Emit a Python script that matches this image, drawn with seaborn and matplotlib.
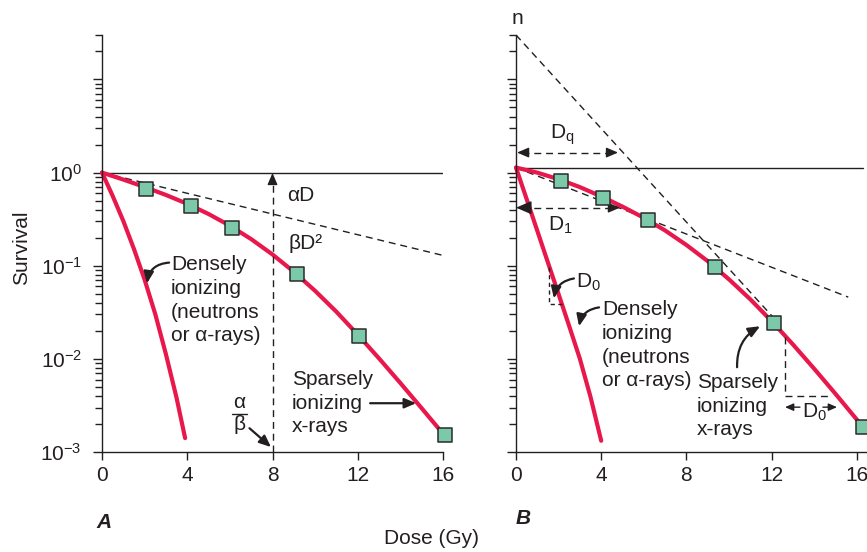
import numpy as np
import pandas as pd
import matplotlib
matplotlib.use("Agg")
import matplotlib.pyplot as plt
import seaborn as sns
from matplotlib.ticker import FixedLocator, FixedFormatter, LogLocator, NullFormatter

# ---------------- data ----------------
dose_ticks = [0, 4, 8, 12, 16]
surv_major = [1e-3, 1e-2, 1e-1, 1e0, 1e1]
surv_major_labels = ["$10^{-3}$", "$10^{-2}$", "$10^{-1}$", "$10^{0}$", ""]

# Panel A
a_sq_dose = [2.07, 4.18, 6.10, 9.15, 12.07, 16.1]
a_sq_surv = [0.674, 0.443, 0.251, 0.0807, 0.0175, 0.00152]
a_sparse_dose = [0, 1, 2, 3, 4, 5, 6, 7, 8, 9, 10, 11, 12, 13, 14, 15, 16, 16.1]
a_sparse_surv = [1.0, 0.841, 0.700, 0.575, 0.462, 0.359, 0.269, 0.193, 0.132, 0.0861,
                 0.0537, 0.0320, 0.0182, 0.0101, 0.00550, 0.00295, 0.00157, 0.00148]
a_dense_dose = [0, 0.5, 1, 1.5, 2, 2.5, 3, 3.5, 3.9]
a_dense_surv = [1.0, 0.562, 0.302, 0.151, 0.0708, 0.0302, 0.0112, 0.0038, 0.00141]
a_alphaD_dose = [0, 16]
a_alphaD_surv = [1.0, 0.129]
a_unit_dose = [0, 16]
a_unit_surv = [1.0, 1.0]

# Panel B
b_sq_dose = [2.11, 4.08, 6.2, 9.34, 12.11, 16.3]
b_sq_surv = [0.82, 0.54, 0.306, 0.096, 0.024, 0.00185]
b_sparse_dose = [0, 1, 2, 3, 4, 5, 6, 7, 8, 9, 10, 11, 12, 13, 14, 15, 16, 16.3]
b_sparse_surv = [1.132, 0.998, 0.849, 0.698, 0.555, 0.431, 0.327, 0.239, 0.167,
                 0.112, 0.0714, 0.0436, 0.0254, 0.0143, 0.00783, 0.00421, 0.00223, 0.00184]
b_dense_dose = [0, 0.5, 1, 1.5, 2, 2.5, 3, 3.5, 4]
b_dense_surv = [1.13, 0.519, 0.237, 0.108, 0.0495, 0.0224, 0.0100, 0.00389, 0.00132]
b_steep_dose = [0, 12.07]
b_steep_surv = [30, 0.028]
b_initial_dose = [0, 15.6]
b_initial_surv = [1.13, 0.046]
b_unit_dose = [0, 16.3]
b_unit_surv = [1.13, 1.13]

# ---------------- style ----------------
sns.set_style("ticks")
plt.rcParams["font.family"] = ["Liberation Sans", "DejaVu Sans"]
plt.rcParams["mathtext.fontset"] = "custom"
plt.rcParams["mathtext.rm"] = "Liberation Sans"
plt.rcParams["mathtext.it"] = "Liberation Sans:italic"
plt.rcParams["mathtext.bf"] = "Liberation Sans:bold"
plt.rcParams["mathtext.default"] = "regular"

RED = "#E8184C"
SQ = "#7CC9A9"
INK = "#231F20"
FS = 15
DASH = (0, (5, 3.5))

fig = plt.figure(figsize=(8.67, 5.52), dpi=100)
W, H = 867.0, 552.0
axA = fig.add_axes([102 / W, 100 / H, 341 / W, 417 / H])
axB = fig.add_axes([516 / W, 100 / H, 351 / W, 417 / H])


def setup(ax, xmax, ylabels):
    ax.set_yscale("log")
    ax.set_xlim(0, xmax)
    ax.set_ylim(1e-3, 30)
    ax.xaxis.set_major_locator(FixedLocator(dose_ticks))
    ax.set_xticklabels([str(t) for t in dose_ticks])
    ax.yaxis.set_major_locator(FixedLocator(surv_major))
    if ylabels:
        ax.yaxis.set_major_formatter(FixedFormatter(surv_major_labels))
    else:
        ax.yaxis.set_major_formatter(NullFormatter())
    ax.yaxis.set_minor_locator(LogLocator(base=10, subs=np.arange(2, 10)))
    ax.yaxis.set_minor_formatter(NullFormatter())
    for s in ["top", "right"]:
        ax.spines[s].set_visible(False)
    for s in ["left", "bottom"]:
        ax.spines[s].set_linewidth(1.0)
        ax.spines[s].set_color(INK)
    ax.tick_params(axis="x", which="major", length=6, width=1, direction="out",
                   labelsize=FS, pad=4, colors=INK)
    ax.tick_params(axis="y", which="major", length=6.5, width=1, direction="out",
                   labelsize=FS, pad=8, colors=INK)
    ax.tick_params(axis="y", which="minor", length=5, width=1, direction="out", colors=INK)
    ax.set_xlabel("")
    ax.set_ylabel("")
    ax.patch.set_alpha(0)


def head(ax, xy, off, scale=1.0):
    ax.annotate("", xy=xy, xytext=off, textcoords="offset points",
                arrowprops=dict(arrowstyle=f"-|>,head_length={0.7*scale},head_width={0.3*scale}",
                                mutation_scale=10, color=INK, lw=1, shrinkA=0, shrinkB=0))


def curved(ax, start, tip, rad):
    ax.annotate("", xy=tip, xytext=start,
                arrowprops=dict(arrowstyle="-|>,head_length=0.7,head_width=0.3",
                                mutation_scale=10, color=INK, lw=1.6, shrinkA=0, shrinkB=0,
                                connectionstyle=f"arc3,rad={rad}"))


def lines_text(ax, x, y, lines, step=17.0):
    for k, ln in enumerate(lines):
        ax.annotate(ln, xy=(x, y), xytext=(0, -step * k), textcoords="offset points",
                    ha="left", va="baseline", fontsize=FS, color=INK)


for ax in (axA, axB):
    ax.set_yscale("log")

# ---------------- Panel A ----------------
sns.lineplot(x=a_unit_dose, y=a_unit_surv, ax=axA, color=INK, lw=1.0,
             estimator=None, sort=False)
sns.lineplot(x=a_alphaD_dose, y=a_alphaD_surv, ax=axA, color=INK, lw=1.0,
             linestyle=DASH, estimator=None, sort=False)
sns.lineplot(x=a_dense_dose, y=a_dense_surv, ax=axA, color=RED, lw=3.0,
             estimator=None, sort=False, clip_on=False)
sns.lineplot(x=a_sparse_dose, y=a_sparse_surv, ax=axA, color=RED, lw=3.0,
             estimator=None, sort=False, clip_on=False)
sns.scatterplot(x=a_sq_dose, y=a_sq_surv, ax=axA, marker="s", s=95, color=SQ,
                edgecolor="#2b2b2b", linewidth=1.1, zorder=5, clip_on=False)
setup(axA, 16, True)

# vertical alpha/beta arrow
axA.plot([8, 8], [1e-3, 0.9], color=INK, lw=1.0, linestyle=DASH)
head(axA, (8, 0.99), (0, -8))
axA.text(8.69, 0.50, "αD", fontsize=FS, color=INK, ha="left", va="baseline")
axA.text(8.73, 0.153, "βD²", fontsize=FS, color=INK, ha="left", va="baseline")
# alpha / beta fraction
axA.text(6.46, 0.00296, "α", fontsize=FS, color=INK, ha="center", va="baseline")
axA.plot([6.10, 6.81], [0.00258, 0.00258], color=INK, lw=1.0)
axA.text(6.46, 0.00172, "β", fontsize=FS, color=INK, ha="center", va="baseline")
axA.annotate("", xy=(7.93, 0.00113), xytext=(6.92, 0.0018),
             arrowprops=dict(arrowstyle="-|>,head_length=0.7,head_width=0.3",
                             mutation_scale=10, color=INK, lw=1.6, shrinkA=0, shrinkB=0))
lines_text(axA, 3.24, 0.089, ["Densely", "ionizing", "(neutrons", "or α-rays)"])
curved(axA, (3.15, 0.108), (2.11, 0.0646), 0.4)
lines_text(axA, 8.92, 0.00521, ["Sparsely", "ionizing", "x-rays"])
axA.annotate("", xy=(14.74, 0.00334), xytext=(12.58, 0.00334),
             arrowprops=dict(arrowstyle="-|>,head_length=0.7,head_width=0.3",
                             mutation_scale=10, color=INK, lw=1.6, shrinkA=0, shrinkB=0))

# ---------------- Panel B ----------------
sns.lineplot(x=b_unit_dose, y=b_unit_surv, ax=axB, color=INK, lw=1.0,
             estimator=None, sort=False, clip_on=False)
sns.lineplot(x=b_steep_dose, y=b_steep_surv, ax=axB, color=INK, lw=1.0,
             linestyle=DASH, estimator=None, sort=False)
sns.lineplot(x=b_initial_dose, y=b_initial_surv, ax=axB, color=INK, lw=1.0,
             linestyle=DASH, estimator=None, sort=False)
sns.lineplot(x=b_dense_dose, y=b_dense_surv, ax=axB, color=RED, lw=3.0,
             estimator=None, sort=False, clip_on=False)
sns.lineplot(x=b_sparse_dose, y=b_sparse_surv, ax=axB, color=RED, lw=3.0,
             estimator=None, sort=False, clip_on=False)
sns.scatterplot(x=b_sq_dose, y=b_sq_surv, ax=axB, marker="s", s=95, color=SQ,
                edgecolor="#2b2b2b", linewidth=1.1, zorder=5, clip_on=False)
setup(axB, 351 / 21.3, False)

axB.text(0.09, 45, "n", fontsize=FS, color=INK, ha="center", va="center")
# Dq
axB.plot([0.3, 4.5], [1.64, 1.64], color=INK, lw=1.0, linestyle=DASH)
head(axB, (0.05, 1.64), (8, 0))
head(axB, (4.79, 1.64), (-8, 0))
axB.text(1.60, 2.31, "D$_q$", fontsize=FS, color=INK, ha="left", va="baseline")
# D1
axB.plot([0.3, 4.6], [0.42, 0.42], color=INK, lw=1.0, linestyle=DASH)
head(axB, (0.0, 0.42), (10.5, 0), scale=1.35)
head(axB, (4.88, 0.42), (-8, 0))
axB.text(1.50, 0.239, "D$_1$", fontsize=FS, color=INK, ha="left", va="baseline")
# D0 (dense)
axB.plot([1.55, 1.55, 2.16], [0.096, 0.039, 0.039], color=INK, lw=1.0, linestyle=(0, (3, 2.5)))
axB.text(2.82, 0.0585, "D$_0$", fontsize=FS, color=INK, ha="left", va="baseline")
curved(axB, (2.72, 0.073), (1.78, 0.0446), 0.35)
lines_text(axB, 4.04, 0.0293, ["Densely", "ionizing", "(neutrons", "or α-rays)"])
curved(axB, (3.9, 0.0357), (2.96, 0.0224), 0.35)
# sparse
lines_text(axB, 8.5, 0.00484, ["Sparsely", "ionizing", "x-rays"])
curved(axB, (10.38, 0.00813), (11.46, 0.0224), -0.3)
# D0 (sparse)
axB.plot([12.63, 12.63, 14.84], [0.017, 0.004, 0.004], color=INK, lw=1.0, linestyle=DASH)
axB.text(13.43, 0.00231, "D$_0$", fontsize=FS, color=INK, ha="left", va="baseline")
axB.annotate("", xy=(12.63, 0.00303), xytext=(13.33, 0.00303),
             arrowprops=dict(arrowstyle="-|>,head_length=0.5,head_width=0.22",
                             mutation_scale=10, color=INK, lw=1.0, shrinkA=0, shrinkB=0))
axB.annotate("", xy=(15.07, 0.00303), xytext=(14.41, 0.00303),
             arrowprops=dict(arrowstyle="-|>,head_length=0.5,head_width=0.22",
                             mutation_scale=10, color=INK, lw=1.0, shrinkA=0, shrinkB=0))

# ---------------- figure labels ----------------
fig.text(22 / W, 1 - 248 / H, "Survival", rotation=90, fontsize=FS, color=INK,
         ha="center", va="center")
fig.text(432 / W, 1 - 538 / H, "Dose (Gy)", fontsize=FS, color=INK, ha="center", va="center")
fig.text(104 / W, 1 - 522 / H, "A", fontsize=FS, color=INK, fontweight="bold",
         fontstyle="italic", ha="center", va="center")
fig.text(523 / W, 1 - 518 / H, "B", fontsize=FS, color=INK, fontweight="bold",
         fontstyle="italic", ha="center", va="center")

fig.savefig("out.png", dpi=100, facecolor="white")
